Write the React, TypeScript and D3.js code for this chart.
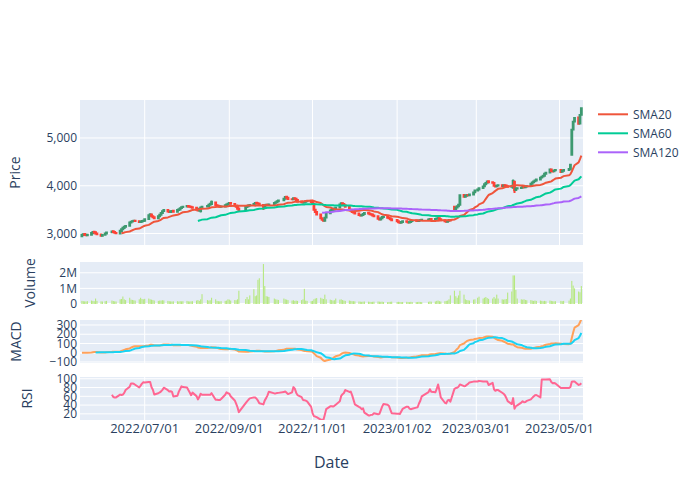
import * as d3 from 'd3';
import { useMemo } from 'react';

// Trading calendar (weekdays minus market holidays)
const START = '2022-05-16';
const END = '2023-05-17';
const HOLIDAYS = [
  '2022-06-01', '2022-06-06', '2022-08-15', '2022-09-09', '2022-09-12', '2022-10-03',
  '2022-10-10', '2022-12-30', '2023-01-23', '2023-01-24', '2023-03-01', '2023-05-01', '2023-05-05',
];

const OPEN = [
  2945, 2970, 2990, 2975, 2962, 2975, 3008, 3035, 3025, 3002, 2980, 2955,
  2975, 3000, 3025, 3048, 3030, 3012, 3000, 3055, 3090, 3118, 3140, 3165, 3232, 3250, 3262, 3268, 3258, 3240, 3245, 3262,
  3270, 3305, 3385, 3400, 3360, 3342, 3320, 3360, 3395, 3430, 3470, 3495, 3460, 3452, 3468, 3478, 3455, 3492, 3505, 3532, 3555,
  3565, 3578, 3566, 3560, 3552, 3540, 3502, 3482, 3470, 3548, 3565, 3578, 3600, 3620, 3650, 3592, 3582, 3572, 3560, 3568, 3592, 3608,
  3628, 3640, 3620, 3580, 3560, 3522, 3495, 3555, 3570, 3588, 3598, 3622, 3645, 3636, 3625, 3595, 3560, 3585, 3602, 3595,
  3610, 3642, 3655, 3678, 3695, 3730, 3768, 3750, 3720, 3718, 3738, 3730, 3700, 3670, 3655, 3650, 3665, 3678, 3684,
  3665, 3628, 3500, 3452, 3400, 3322, 3292, 3270, 3335, 3425, 3482, 3495, 3500, 3528, 3545, 3612, 3632, 3618, 3590, 3555, 3500, 3480,
  3455, 3440, 3418, 3390, 3378, 3386, 3410, 3434, 3420, 3405, 3400, 3378, 3360, 3310, 3296, 3322, 3346, 3350, 3330, 3320, 3300,
  3282, 3255, 3235, 3226, 3242, 3258, 3245, 3230, 3242, 3262, 3272, 3265, 3262, 3276, 3282, 3288, 3294, 3304, 3298, 3308,
  3318, 3322, 3300, 3278, 3256, 3248, 3265, 3284, 3560, 3505, 3545, 3572, 3602, 3805, 3772, 3792, 3808, 3800, 3818, 3862,
  3902, 3924, 3952, 3988, 4032, 4062, 4092, 4072, 4060, 4000, 3988, 4004, 4012, 3996, 4012, 4005, 3990, 3980, 3960, 4085, 3910, 3942,
  3952, 3962, 3976, 3970, 3986, 3994, 4042, 4072, 4092, 4112, 4132, 4172, 4192, 4212, 4252, 4275, 4342, 4310, 4302, 4322,
  4332, 4292, 4312, 4332, 4352, 4650, 5175, 5345, 5430, 5305, 5485,
];

const CLOSE = [
  2975, 2985, 2975, 2965, 2972, 3010, 3030, 3022, 3000, 2985, 2955, 2970,
  3000, 3020, 3045, 3030, 3015, 3005, 3060, 3090, 3120, 3140, 3160, 3230, 3245, 3258, 3265, 3260, 3240, 3248, 3262, 3268,
  3300, 3385, 3405, 3360, 3340, 3318, 3360, 3392, 3430, 3468, 3492, 3462, 3450, 3466, 3474, 3455, 3490, 3506, 3530, 3552, 3562,
  3576, 3565, 3560, 3550, 3540, 3500, 3480, 3520, 3545, 3562, 3576, 3602, 3622, 3662, 3592, 3580, 3572, 3560, 3566, 3590, 3606, 3625,
  3640, 3622, 3580, 3560, 3520, 3488, 3555, 3570, 3586, 3596, 3620, 3640, 3636, 3625, 3600, 3560, 3585, 3600, 3595, 3606,
  3640, 3655, 3676, 3690, 3730, 3765, 3748, 3722, 3716, 3736, 3730, 3702, 3672, 3656, 3650, 3662, 3676, 3682, 3662,
  3630, 3500, 3450, 3400, 3320, 3290, 3265, 3330, 3420, 3480, 3495, 3500, 3525, 3540, 3610, 3632, 3618, 3590, 3560, 3500, 3480, 3452,
  3440, 3420, 3390, 3380, 3385, 3410, 3432, 3420, 3405, 3400, 3378, 3360, 3310, 3295, 3320, 3345, 3352, 3330, 3320, 3300, 3280,
  3255, 3235, 3225, 3240, 3255, 3245, 3230, 3240, 3260, 3270, 3265, 3260, 3275, 3280, 3286, 3292, 3302, 3296, 3306, 3316,
  3322, 3302, 3280, 3256, 3246, 3262, 3282, 3272, 3500, 3542, 3570, 3600, 3800, 3770, 3790, 3806, 3800, 3816, 3860, 3900,
  3922, 3950, 3986, 4030, 4060, 4090, 4072, 4062, 4000, 3986, 4002, 4012, 3996, 4010, 4005, 3990, 3980, 3990, 4100, 3905, 3940, 3950,
  3960, 3975, 3970, 3985, 3992, 4040, 4070, 4090, 4110, 4130, 4170, 4190, 4210, 4250, 4270, 4340, 4310, 4300, 4320, 4330,
  4290, 4310, 4330, 4350, 4440, 5170, 5340, 5420, 5300, 5480, 5620,
];

// millions of shares
const VOLUME = [
  0.20, 0.18, 0.17, 0.16, 0.18, 0.22, 0.20, 0.18, 0.35, 0.20, 0.17, 0.16,
  0.18, 0.20, 0.22, 0.19, 0.17, 0.16, 0.30, 0.32, 0.48, 0.30, 0.25, 0.40, 0.28, 0.26, 0.24, 0.22, 0.30, 0.40, 0.32, 0.30,
  0.33, 0.35, 0.30, 0.28, 0.25, 0.22, 0.20, 0.22, 0.22, 0.24, 0.23, 0.20, 0.18, 0.17, 0.16, 0.17, 0.18, 0.16, 0.18, 0.17, 0.18,
  0.20, 0.17, 0.16, 0.17, 0.18, 0.22, 0.25, 0.20, 0.30, 0.63, 0.25, 0.22, 0.24, 0.40, 0.30, 0.20, 0.18, 0.17, 0.18, 0.20, 0.22, 0.30,
  0.28, 0.22, 0.25, 0.24, 0.30, 0.85, 0.32, 0.45, 0.30, 0.55, 0.95, 0.50, 0.55, 1.55, 1.65, 2.56, 1.15, 0.50, 0.48, 0.45,
  0.35, 0.30, 0.28, 0.26, 0.35, 0.30, 0.28, 0.25, 0.22, 0.24, 0.20, 0.22, 0.20, 0.25, 0.30, 0.97, 0.22, 0.20, 0.18,
  0.20, 0.30, 0.35, 0.38, 0.40, 0.35, 0.32, 0.60, 0.30, 0.28, 0.25, 0.22, 0.24, 0.35, 0.28, 0.30, 0.25, 0.22, 0.20, 0.22, 0.20, 0.18,
  0.18, 0.17, 0.16, 0.15, 0.14, 0.15, 0.16, 0.15, 0.14, 0.13, 0.14, 0.15, 0.16, 0.15, 0.14, 0.15, 0.13, 0.12, 0.13, 0.14, 0.15,
  0.13, 0.14, 0.13, 0.12, 0.13, 0.14, 0.13, 0.12, 0.14, 0.13, 0.12, 0.13, 0.14, 0.13, 0.12, 0.14, 0.16, 0.15, 0.16, 0.20,
  0.22, 0.18, 0.16, 0.18, 0.20, 0.22, 0.30, 0.55, 0.85, 0.50, 0.40, 0.55, 0.85, 0.60, 0.30, 0.25, 0.24, 0.22, 0.28, 0.30,
  0.40, 0.47, 0.35, 0.40, 0.45, 0.38, 0.33, 0.35, 0.45, 0.35, 0.60, 0.35, 0.30, 0.28, 0.30, 0.32, 0.73, 0.80, 1.83, 1.83, 0.90, 0.35,
  0.30, 0.28, 0.30, 0.26, 0.24, 0.25, 0.22, 0.20, 0.22, 0.20, 0.22, 0.20, 0.18, 0.20, 0.18, 0.22, 0.20, 0.18, 0.17, 0.18,
  0.20, 0.18, 0.20, 0.22, 0.35, 1.48, 1.18, 1.00, 0.80, 0.75, 1.15,
];

// the few wicks long enough to see
const WICK_HIGH: Record<string, number> = { '2022-08-19': 3690, '2023-03-28': 4130 };
const WICK_LOW: Record<string, number> = { '2022-08-11': 3440, '2022-09-26': 3490, '2023-03-29': 3850 };

const X_TICKS = ['2022-07-01', '2022-09-01', '2022-11-01', '2023-01-02', '2023-03-01', '2023-05-01'];
const X_DOMAIN = ['2022-05-14T14:00:00Z', '2023-05-18T05:00:00Z'];
const PRICE_TICKS = [3000, 4000, 5000];
const VOLUME_TICKS = [0, 1, 2];
const MACD_TICKS = [-100, 0, 100, 200, 300];
const RSI_TICKS = [20, 40, 60, 80, 100];
const SMA_SERIES = [
  { name: 'SMA20', n: 20, color: '#EF553B' },
  { name: 'SMA60', n: 60, color: '#00CC96' },
  { name: 'SMA120', n: 120, color: '#AB63FA' },
];

const BG = '#E5ECF6';
const INK = '#2a3f5f';
const FONT = '"Open Sans", verdana, arial, sans-serif';
const INC = '#3D9970';
const DEC = '#FF4136';

const LEFT = 80;
const RIGHT = 583;
const P_PRICE = [100, 245];
const P_VOL = [262, 304];
const P_MACD = [320, 363];
const P_RSI = [377, 420];

const parseDay = d3.utcParse('%Y-%m-%d');
const keyOf = d3.utcFormat('%Y-%m-%d');
const tickFmt = d3.utcFormat('%Y/%m/%d');

function tradingDays(): Date[] {
  const out: Date[] = [];
  const end = parseDay(END)!;
  for (let d = parseDay(START)!; d <= end; d = d3.utcDay.offset(d, 1)) {
    const wd = d.getUTCDay();
    if (wd === 0 || wd === 6 || HOLIDAYS.includes(keyOf(d))) continue;
    out.push(d);
  }
  return out;
}

function sma(v: number[], n: number): (number | null)[] {
  return v.map((_, i) => (i < n - 1 ? null : d3.mean(v.slice(i - n + 1, i + 1))!));
}

function ema(v: number[], n: number): number[] {
  const a = 2 / (n + 1);
  const out: number[] = [];
  v.forEach((x, i) => out.push(i === 0 ? x : a * x + (1 - a) * out[i - 1]));
  return out;
}

function rsi(v: number[], n: number): (number | null)[] {
  const delta = v.map((x, i) => (i === 0 ? 0 : x - v[i - 1]));
  return v.map((_, i) => {
    if (i < n) return null;
    const w = delta.slice(i - n + 1, i + 1);
    const g = d3.mean(w, d => Math.max(d, 0))!;
    const l = d3.mean(w, d => Math.max(-d, 0))!;
    return l === 0 ? 100 : 100 - 100 / (1 + g / l);
  });
}

function YTicks({ ticks, y, fmt, zero }: { ticks: number[]; y: d3.ScaleLinear<number, number>; fmt: (v: number) => string; zero?: boolean }) {
  return (
    <g>
      {ticks.map(t => (
        <g key={t}>
          <line x1={LEFT} x2={RIGHT} y1={y(t)} y2={y(t)} stroke="#fff" strokeWidth={zero && t === 0 ? 2 : 1} />
          <text x={77} y={y(t) + 4.2} textAnchor="end" fontSize={12} fill={INK}>{fmt(t)}</text>
        </g>
      ))}
    </g>
  );
}

function YTitle({ label, x, y }: { label: string; x: number; y: number }) {
  return (
    <text transform={`translate(${x},${y}) rotate(-90)`} textAnchor="middle" fontSize={14} fill={INK}>{label}</text>
  );
}

export default function App() {
  const m = useMemo(() => {
    const dates = tradingDays();
    const x = d3.scaleUtc().domain(X_DOMAIN.map(s => new Date(s))).range([LEFT, RIGHT]);
    const yP = d3.scaleLinear().domain([2760, 5795]).range([P_PRICE[1], P_PRICE[0]]);
    const yV = d3.scaleLinear().domain([0, 2.69]).range([P_VOL[1], P_VOL[0]]);
    const yM = d3.scaleLinear().domain([-111, 354]).range([P_MACD[1], P_MACD[0]]);
    const yR = d3.scaleLinear().domain([6, 104]).range([P_RSI[1], P_RSI[0]]);
    const smas = SMA_SERIES.map(s => ({ ...s, values: sma(CLOSE, s.n) }));
    const e12 = ema(CLOSE, 12);
    const e26 = ema(CLOSE, 26);
    const macd = e12.map((v, i) => v - e26[i]);
    const signal = sma(macd, 9);
    const r = rsi(CLOSE, 14);
    const mk = (y: d3.ScaleLinear<number, number>) =>
      d3.line<number | null>().defined(v => v != null).x((_, i) => x(dates[i])).y(v => y(v as number));
    return { dates, x, yP, yV, yM, yR, smas, macd, signal, r, mk };
  }, []);

  const { dates, x, yP, yV, yM, yR, smas, macd, signal, r, mk } = m;
  const day = 864e5;
  const boxHalf = (x(new Date(dates[0].getTime() + 0.3 * day)) - x(dates[0]));
  const barHalf = (x(new Date(dates[0].getTime() + 0.4 * day)) - x(dates[0]));
  const ticks = X_TICKS.map(s => parseDay(s)!);

  const panel = (p: number[], id: string) => (
    <>
      <rect x={LEFT} y={p[0]} width={RIGHT - LEFT} height={p[1] - p[0]} fill={BG} />
      <clipPath id={id}><rect x={LEFT} y={p[0]} width={RIGHT - LEFT} height={p[1] - p[0]} /></clipPath>
    </>
  );
  const vgrid = (p: number[]) =>
    ticks.map((t, i) => <line key={i} x1={x(t)} x2={x(t)} y1={p[0]} y2={p[1]} stroke="#fff" strokeWidth={1} />);

  return (
    <svg width={700} height={500} style={{ position: 'absolute', left: 0, top: 0, background: '#fff' }} fontFamily={FONT}>
      {panel(P_PRICE, 'cp')}
      {panel(P_VOL, 'cv')}
      {panel(P_MACD, 'cm')}
      {panel(P_RSI, 'cr')}

      {vgrid(P_PRICE)}
      {vgrid(P_MACD)}
      {vgrid(P_RSI)}

      <YTicks ticks={PRICE_TICKS} y={yP} fmt={d3.format(',')} />
      <YTicks ticks={VOLUME_TICKS} y={yV} fmt={v => (v === 0 ? '0' : `${v}M`)} zero />
      <YTicks ticks={MACD_TICKS} y={yM} fmt={v => (v < 0 ? `\u2212${-v}` : `${v}`)} zero />
      <YTicks ticks={RSI_TICKS} y={yR} fmt={v => `${v}`} />

      {/* candles */}
      <g clipPath="url(#cp)">
        {dates.map((d, i) => {
          const o = OPEN[i];
          const c = CLOSE[i];
          const k = keyOf(d);
          const hi = WICK_HIGH[k] ?? Math.max(o, c);
          const lo = WICK_LOW[k] ?? Math.min(o, c);
          const col = c > o ? INC : DEC;
          const cx = x(d);
          const yt = yP(Math.max(o, c));
          const yb = yP(Math.min(o, c));
          const path = `M${cx - boxHalf},${yt}H${cx + boxHalf}V${yb}H${cx - boxHalf}Z` +
            `M${cx},${yt}V${yP(hi)}M${cx},${yb}V${yP(lo)}`;
          return <path key={i} d={path} fill={col} fillOpacity={0.5} stroke={col} strokeWidth={2} />;
        })}
        {smas.map(s => (
          <path key={s.name} d={mk(yP)(s.values) ?? ''} fill="none" stroke={s.color} strokeWidth={2} strokeLinejoin="round" />
        ))}
      </g>

      {/* volume */}
      <g clipPath="url(#cv)">
        {dates.map((d, i) => (
          <rect key={i} x={x(d) - barHalf} width={barHalf * 2} y={yV(VOLUME[i])} height={yV(0) - yV(VOLUME[i])} fill="#B6E880" />
        ))}
      </g>

      {/* MACD */}
      <g clipPath="url(#cm)">
        <path d={mk(yM)(macd) ?? ''} fill="none" stroke="#FFA15A" strokeWidth={2} strokeLinejoin="round" />
        <path d={mk(yM)(signal) ?? ''} fill="none" stroke="#19D3F3" strokeWidth={2} strokeLinejoin="round" />
      </g>

      {/* RSI */}
      <g clipPath="url(#cr)">
        <path d={mk(yR)(r) ?? ''} fill="none" stroke="#FF6692" strokeWidth={2} strokeLinejoin="round" />
      </g>

      {/* x tick labels */}
      {ticks.map((t, i) => (
        <text key={i} x={x(t)} y={432.8} textAnchor="middle" fontSize={13} fill={INK}>{tickFmt(t)}</text>
      ))}

      <YTitle label="Price" x={19.5} y={(P_PRICE[0] + P_PRICE[1]) / 2} />
      <YTitle label="Volume" x={35} y={(P_VOL[0] + P_VOL[1]) / 2} />
      <YTitle label="MACD" x={20.5} y={(P_MACD[0] + P_MACD[1]) / 2} />
      <YTitle label="RSI" x={31.5} y={(P_RSI[0] + P_RSI[1]) / 2} />
      <text x={(LEFT + RIGHT) / 2} y={467.5} textAnchor="middle" fontSize={16} fill={INK}>Date</text>

      {/* legend */}
      {SMA_SERIES.map((s, i) => (
        <g key={s.name} transform={`translate(598,${114.3 + i * 19})`}>
          <line x1={0} x2={30} y1={0} y2={0} stroke={s.color} strokeWidth={2} />
          <text x={35} y={4.2} fontSize={12} fill={INK}>{s.name}</text>
        </g>
      ))}
    </svg>
  );
}
